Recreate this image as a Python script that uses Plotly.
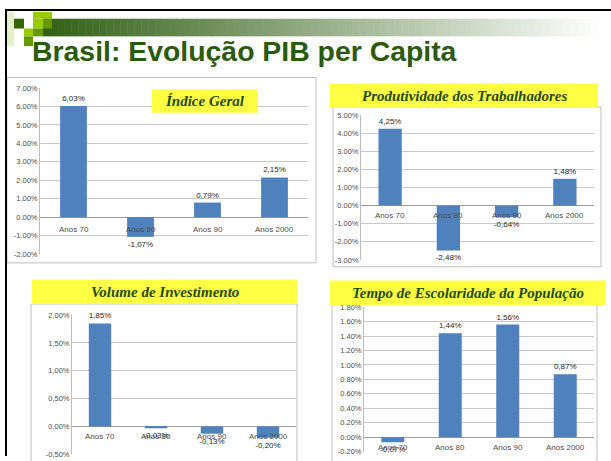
import plotly.graph_objects as go

# dados (variação média anual do PIB per capita e componentes)
categorias = ['Anos 70', 'Anos 80', 'Anos 90', 'Anos 2000']

indice_geral = [6.03, -1.07, 0.79, 2.15]
produtividade = [4.25, -2.48, -0.64, 1.48]
investimento = [1.85, -0.03, -0.13, -0.20]
escolaridade = [-0.07, 1.44, 1.56, 0.87]

titulos = ['Índice Geral', 'Produtividade dos Trabalhadores',
           'Volume de Investimento', 'Tempo de Escolaridade da População']

ticks_geral = [-2, -1, 0, 1, 2, 3, 4, 5, 6, 7]
ticks_prod = [-3, -2, -1, 0, 1, 2, 3, 4, 5]
ticks_inv = [-0.5, 0, 0.5, 1.0, 1.5, 2.0]
ticks_esc = [-0.2, 0, 0.2, 0.4, 0.6, 0.8, 1.0, 1.2, 1.4, 1.6, 1.8]

W, H = 611, 461
BLUE = '#4f81bd'
GRID = '#c9c9c9'
TXT = '#4d4d4d'
YELLOW = '#ffff44'
GREEN_T = '#1f4a05'


def fx(p):
    return p / W


def fy(p):
    return 1 - p / H


def pct(v, sep):
    return f'{v:.2f}%'.replace('.', sep)


fig = go.Figure()
shapes = []
annotations = []

# moldura do slide
shapes.append(dict(type='line', xref='paper', yref='paper', x0=fx(5), x1=1.0, y0=fy(6), y1=fy(6),
                   line=dict(color='black', width=2)))
shapes.append(dict(type='line', xref='paper', yref='paper', x0=fx(6), x1=fx(6), y0=fy(5), y1=0,
                   line=dict(color='black', width=2)))

# faixa em degradê no topo
n = 80
x_start, x_end = 43, 605
c0 = (50, 98, 22)
for i in range(n):
    t = i / (n - 1)
    col = tuple(int(c0[k] + (255 - c0[k]) * t) for k in range(3))
    xa = x_start + (x_end - x_start) * i / n
    xb = x_start + (x_end - x_start) * (i + 1) / n + 0.5
    shapes.append(dict(type='rect', xref='paper', yref='paper', x0=fx(xa), x1=fx(xb),
                       y0=fy(33), y1=fy(15), line=dict(width=0), fillcolor='rgb(%d,%d,%d)' % col))

# quadradinhos decorativos
quad = [
    (7, 8, 14, 43, '#e3f0c8'),
    (14, 15, 24, 25, '#336600'),
    (33, 8, 52, 15, '#99cc00'),
    (33, 15, 43, 25, '#99cc00'),
    (43, 15, 52, 25, '#669900'),
    (24, 25, 33, 33, '#99cc00'),
    (33, 25, 43, 33, '#669900'),
    (24, 33, 33, 43, '#669900'),
]
for xa, ya, xb, yb, c in quad:
    shapes.append(dict(type='rect', xref='paper', yref='paper', x0=fx(xa), x1=fx(xb),
                       y0=fy(yb), y1=fy(ya), line=dict(width=0), fillcolor=c))

# título do slide
annotations.append(dict(text='<b>Brasil: Evolução PIB per Capita</b>', xref='paper', yref='paper',
                        x=fx(30), y=fy(48), xanchor='left', yanchor='middle', showarrow=False,
                        font=dict(family='Liberation Sans, Arial', size=28.4, color='#2b5a0b')))

# painéis: (valores, ticks, separador, caixa, título, área do gráfico, deslocamento rótulo)
paineis = [
    (indice_geral, ticks_geral, '.', (7, 75, 316, 264), (152, 87, 258, 111), (40, 85.7, 308, 255), -12),
    (produtividade, ticks_prod, '.', (333, 105, 601, 268), (330, 81, 598, 106), (361, 113.3, 594, 261), -10),
    (investimento, ticks_inv, ',', (31, 306, 297, 470), (32, 281, 297, 306), (72, 317.3, 296, 459.4), -10),
    (escolaridade, ticks_esc, '.', (332, 306, 597, 470), (330, 282, 605, 307), (364, 309.3, 594, 456.5), -10),
]

layout_axes = {}
for i, (vals, ticks, sep, caixa, tbox, area, dy) in enumerate(paineis):
    k = '' if i == 0 else str(i + 1)
    xa, ya = 'x' + k, 'y' + k
    # caixa branca do gráfico
    shapes.append(dict(type='rect', xref='paper', yref='paper', layer='below',
                       x0=fx(caixa[0]), x1=fx(caixa[2]), y0=fy(caixa[3]), y1=fy(caixa[1]),
                       line=dict(color='#bdbdbd', width=1), fillcolor='white'))
    # caixa amarela do título
    shapes.append(dict(type='rect', xref='paper', yref='paper', layer='above',
                       x0=fx(tbox[0]), x1=fx(tbox[2]), y0=fy(tbox[3]), y1=fy(tbox[1]),
                       line=dict(width=0), fillcolor=YELLOW))
    annotations.append(dict(text='<b><i>' + titulos[i] + '</i></b>', xref='paper', yref='paper',
                            x=fx((tbox[0] + tbox[2]) / 2), y=fy((tbox[1] + tbox[3]) / 2),
                            xanchor='center', yanchor='middle', showarrow=False,
                            font=dict(family='Liberation Serif, Times New Roman', size=15, color=GREEN_T)))

    fig.add_trace(go.Bar(
        x=categorias, y=vals, xaxis=xa, yaxis=ya, marker=dict(color=BLUE, line=dict(width=0)),
        text=[pct(v, ',') for v in vals], textposition='outside', cliponaxis=False,
        constraintext='none', textfont=dict(family='Liberation Sans, Arial', size=8, color='#262626'),
        showlegend=False, hoverinfo='skip'))

    # rótulos das categorias sobre o eixo zero
    for c in categorias:
        annotations.append(dict(text=c, xref=xa, yref=ya, x=c, y=0, yshift=dy, showarrow=False,
                                xanchor='center', yanchor='middle',
                                font=dict(family='Liberation Sans, Arial', size=8, color=TXT)))

    layout_axes['xaxis' + k] = dict(domain=[fx(area[0]), fx(area[2])], anchor=ya,
                                    range=[-0.5, 3.5], showticklabels=False, showgrid=False,
                                    zeroline=False, showline=False, fixedrange=True)
    layout_axes['yaxis' + k] = dict(domain=[fy(area[3]), fy(area[1])], anchor=xa,
                                    range=[ticks[0], ticks[-1]], tickvals=ticks,
                                    ticktext=[pct(t, sep) for t in ticks],
                                    showgrid=True, gridcolor=GRID, gridwidth=1,
                                    zeroline=True, zerolinecolor='#9a9a9a', zerolinewidth=1,
                                    showline=True, linecolor='#bdbdbd', ticks='', ticklen=0,
                                    tickfont=dict(family='Liberation Sans, Arial', size=7.5, color=TXT),
                                    fixedrange=True)

fig.update_layout(
    width=W, height=H, margin=dict(l=0, r=0, t=0, b=0),
    paper_bgcolor='white', plot_bgcolor='rgba(0,0,0,0)',
    bargap=0.6, shapes=shapes, annotations=annotations, **layout_axes)

# sem margem da página, para a figura ocupar a janela toda
fig.write_html('out.html', config={'displayModeBar': False},
               post_script="document.body.style.margin='0';")
